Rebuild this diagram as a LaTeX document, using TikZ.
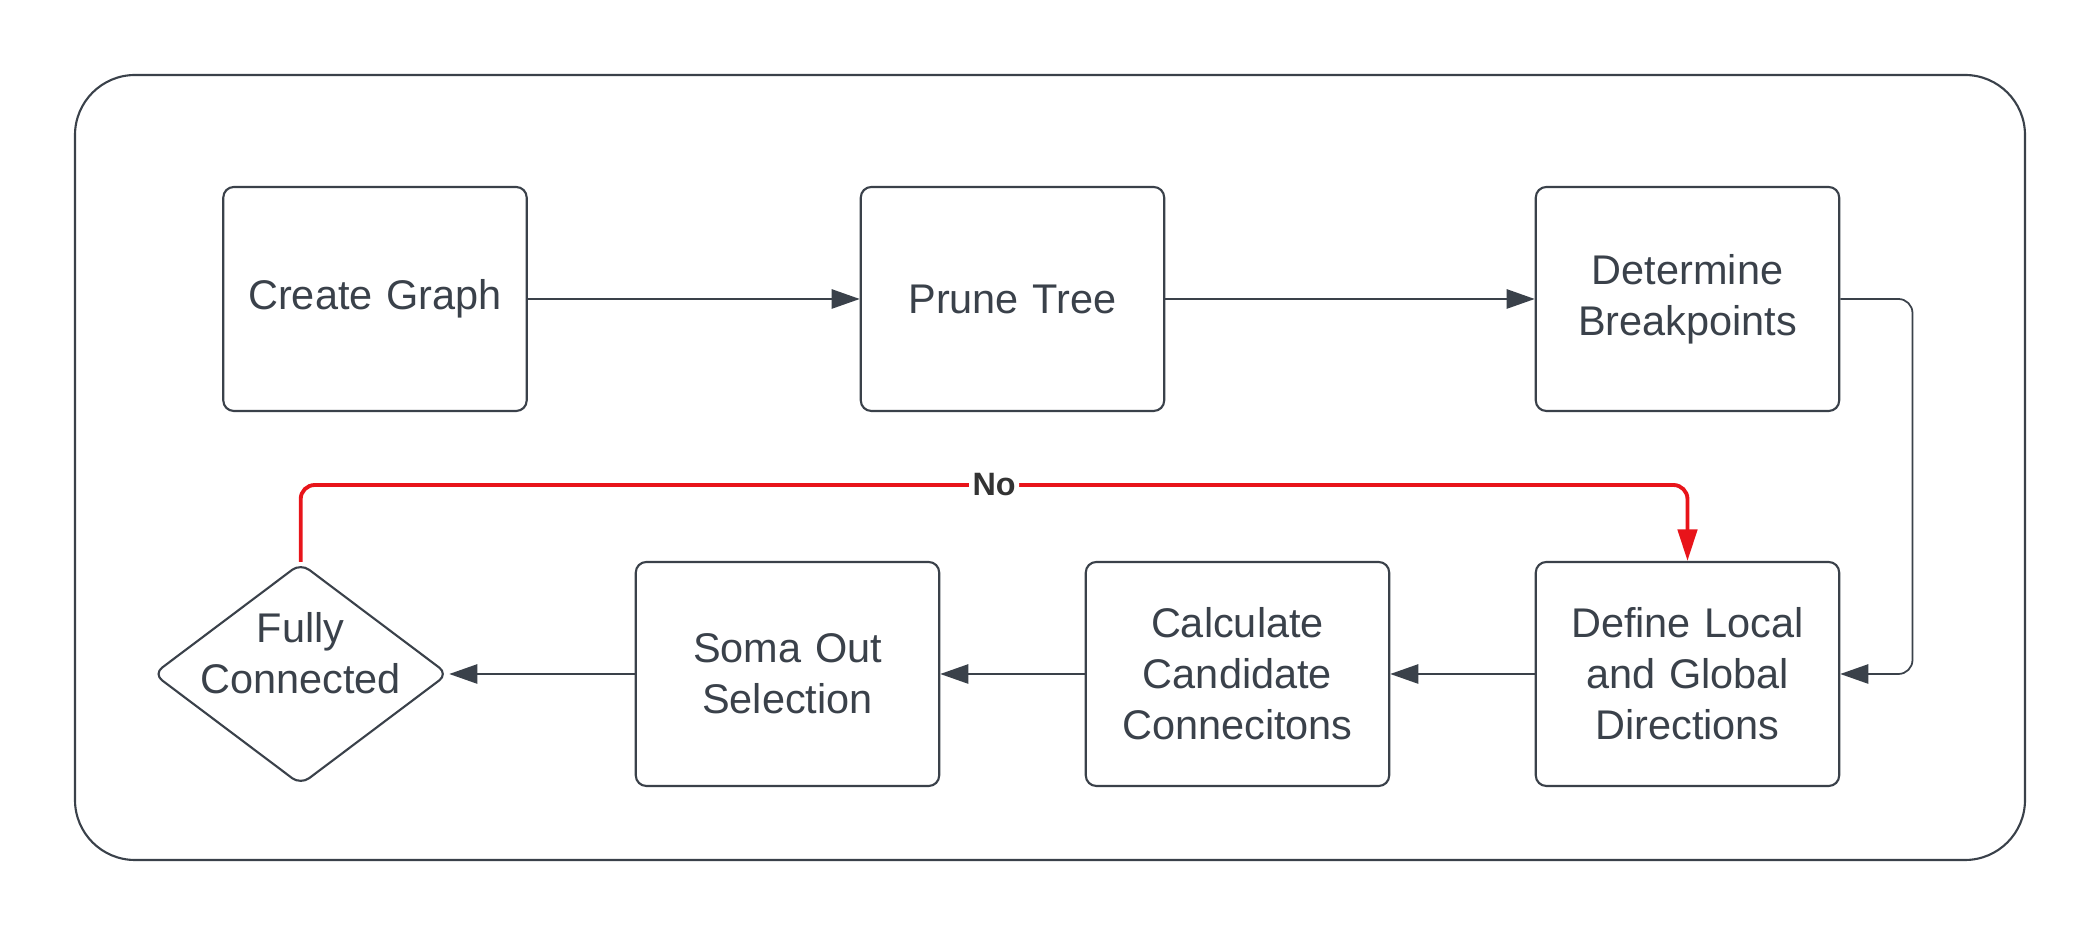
\documentclass[tikz,border=0pt]{standalone}
\usepackage{fontspec}
\setmainfont{Liberation Sans}
\usetikzlibrary{shapes.geometric,arrows.meta}
\definecolor{inkgray}{HTML}{3A414A}
\definecolor{noRed}{HTML}{E8141A}
\begin{document}
\begin{tikzpicture}[step_node/.style={draw=inkgray,line width=0.6pt,rounded corners=3pt,minimum width=3cm,minimum height=2.24cm,text width=2.8cm,align=center,text=inkgray,font=\fontsize{11.8}{14.5}\selectfont},decision_node/.style={diamond,draw=inkgray,line width=0.6pt,rounded corners=3pt,minimum width=2.95cm,minimum height=2.22cm,aspect=1.32,inner sep=0pt},label_node/.style={align=center,text=inkgray,inner sep=0pt,font=\fontsize{11.8}{14.5}\selectfont},flow_line/.style={draw=inkgray,line width=0.5pt,rounded corners=4pt,-{Triangle[length=8pt,width=5.5pt]}},no_line/.style={draw=noRed,line width=1.1pt,rounded corners=4pt,-{Triangle[length=9pt,width=5.5pt]}}]
		
		\useasboundingbox (0,0) rectangle (21,9.38);
		\draw[inkgray,line width=0.6pt,rounded corners=0.6cm] (0.75,8.63) rectangle (20.25,0.78);
		
		\node[step_node] (create) at (3.75,6.39) {Create Graph};
		\node[step_node] (prune) at (10.125,6.39) {Prune Tree};
		\node[step_node] (breaks) at (16.875,6.39) {Determine\\Breakpoints};
		\node[step_node] (define) at (16.875,2.64) {Define Local\\and Global\\Directions};
		\node[step_node] (calc) at (12.375,2.64) {Calculate\\Candidate\\Connecitons};
		\node[step_node] (soma) at (7.875,2.64) {Soma Out\\Selection};
		\node[decision_node] (fully) at (3.007,2.64) {};
		\node[label_node] (fully_text) at (3.007,2.85) {Fully\\Connected};
		
		\coordinate (loop_right) at (19.125,4.5);
		\coordinate (no_turn) at (16.875,4.53);
		
		\draw[flow_line] (create) -- (prune);
		\draw[flow_line] (prune) -- (breaks);
		\draw[flow_line] (breaks.east) -| (loop_right) |- (define.east);
		\draw[flow_line] (define) -- (calc);
		\draw[flow_line] (calc) -- (soma);
		\draw[flow_line] (soma) -- (fully);
		\draw[no_line] (fully.north) |- node[pos=0.75,fill=white,inner sep=1pt,text=black!80,font=\fontsize{9.2}{11}\selectfont\bfseries] {No} (no_turn) -- (define.north);
		\end{tikzpicture}
\end{document}
